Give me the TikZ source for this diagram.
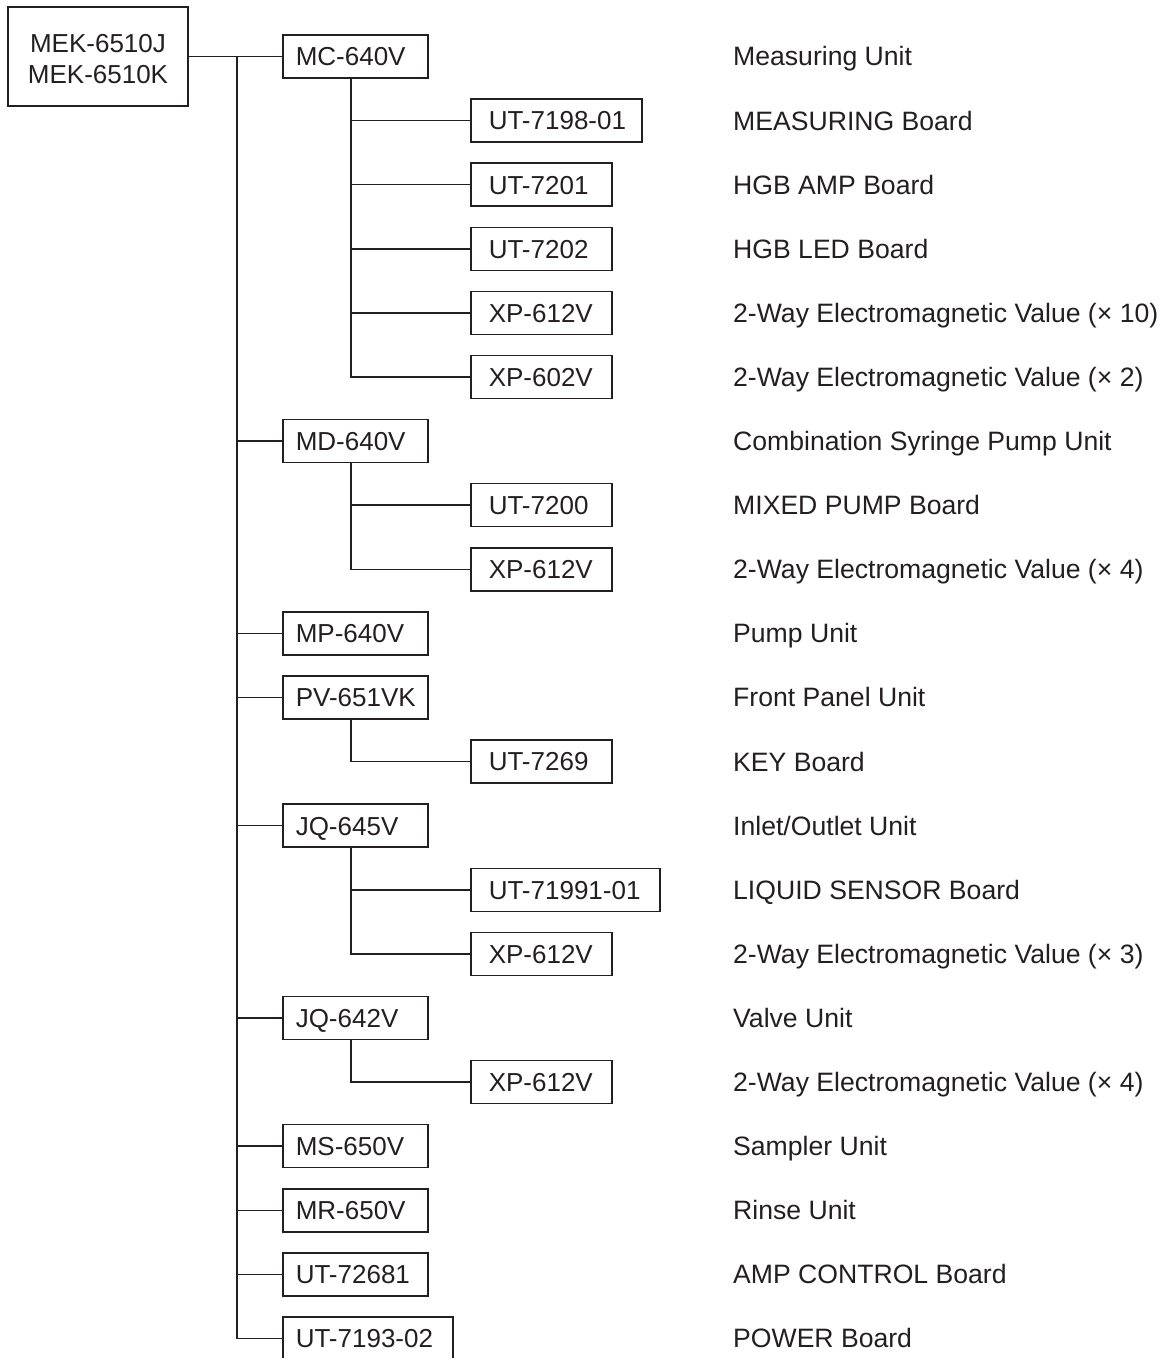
\documentclass[tikz,border=0pt]{standalone}
\usepackage{fontspec}
\setmainfont{Liberation Sans}
\definecolor{ink}{HTML}{231F20}
\begin{document}
\exhyphenpenalty=10000
\hyphenpenalty=10000
\begin{tikzpicture}[x=1pt,y=-1pt,
  every node/.style={text=ink, font=\fontsize{26}{31}\selectfont},
  box/.style={draw=ink, line width=1.5pt, minimum height=43pt, anchor=west, align=left, text height=18.7pt, text depth=0pt},
  lone/.style={box, inner xsep=13pt, text width=119pt},
  ltwo/.style={box, inner xsep=18pt, text width=105pt},
  lab/.style={anchor=base west, inner sep=0pt, font=\fontsize{26.6}{31}\selectfont},
  wire/.style={draw=ink, line width=1.5pt}]
\useasboundingbox (0,0) rectangle (1163,1358);
\def\r#1{\fpeval{56.5+64.1*#1}}
% root
\draw[draw=ink, line width=1.5pt] (8,7) rectangle (188,106);
\node[align=center, inner sep=0pt, minimum width=180pt, minimum height=99pt] (root) at (98,56.5) {};
\node[align=center, inner sep=0pt] (roottxt) at (98,59.5) {MEK-6510J\\MEK-6510K};
\coordinate (tx) at (237,56.5);
\coordinate (sx) at (351,0);
% level 1
\node[lone] (mc) at (282,{\r{0}}) {\mbox{MC-640V}};
\node[lone] (md) at (282,{\r{6}}) {\mbox{MD-640V}};
\node[lone] (mp) at (282,{\r{9}}) {\mbox{MP-640V}};
\node[lone] (pv) at (282,{\r{10}}) {\mbox{PV-651VK}};
\node[lone] (jqa) at (282,{\r{12}}) {\mbox{JQ-645V}};
\node[lone] (jqb) at (282,{\r{15}}) {\mbox{JQ-642V}};
\node[lone] (ms) at (282,{\r{17}}) {\mbox{MS-650V}};
\node[lone] (mr) at (282,{\r{18}}) {\mbox{MR-650V}};
\node[lone] (uta) at (282,{\r{19}}) {\mbox{UT-72681}};
\node[lone, text width=144pt] (utb) at (282,{\r{20}}) {\mbox{UT-7193-02}};
% level 2
\node[ltwo, text width=135pt] (c1) at (470,{\r{1}}) {\mbox{UT-7198-01}};
\node[ltwo] (c2) at (470,{\r{2}}) {\mbox{UT-7201}};
\node[ltwo] (c3) at (470,{\r{3}}) {\mbox{UT-7202}};
\node[ltwo] (c4) at (470,{\r{4}}) {\mbox{XP-612V}};
\node[ltwo] (c5) at (470,{\r{5}}) {\mbox{XP-602V}};
\node[ltwo] (d1) at (470,{\r{7}}) {\mbox{UT-7200}};
\node[ltwo] (d2) at (470,{\r{8}}) {\mbox{XP-612V}};
\node[ltwo] (p1) at (470,{\r{11}}) {\mbox{UT-7269}};
\node[ltwo, text width=153pt] (j1) at (470,{\r{13}}) {\mbox{UT-71991-01}};
\node[ltwo] (j2) at (470,{\r{14}}) {\mbox{XP-612V}};
\node[ltwo] (k1) at (470,{\r{16}}) {\mbox{XP-612V}};
% connectors
\draw[wire] (root.east |- mc.west) -- (mc.west);
\foreach \n in {md,mp,pv,jqa,jqb,ms,mr,uta,utb} \draw[wire] (tx) |- (\n.west);
\foreach \n in {c1,c2,c3,c4,c5} \draw[wire] (mc.south -| sx) |- (\n.west);
\foreach \n in {d1,d2} \draw[wire] (md.south -| sx) |- (\n.west);
\draw[wire] (pv.south -| sx) |- (p1.west);
\foreach \n in {j1,j2} \draw[wire] (jqa.south -| sx) |- (\n.west);
\draw[wire] (jqb.south -| sx) |- (k1.west);
% labels
\foreach \i/\t [count=\k] in {0/{Measuring Unit},1/{MEASURING Board},2/{HGB AMP Board},3/{HGB LED Board},
  4/{2-Way Electromagnetic Value (\texttimes\ 10)},5/{2-Way Electromagnetic Value (\texttimes\ 2)},
  6/{Combination Syringe Pump Unit},7/{MIXED PUMP Board},8/{2-Way Electromagnetic Value (\texttimes\ 4)},
  9/{Pump Unit},10/{Front Panel Unit},11/{KEY Board},12/{Inlet/Outlet Unit},13/{LIQUID SENSOR Board},
  14/{2-Way Electromagnetic Value (\texttimes\ 3)},15/{Valve Unit},16/{2-Way Electromagnetic Value (\texttimes\ 4)},
  17/{Sampler Unit},18/{Rinse Unit},19/{AMP CONTROL Board},20/{POWER Board}}
  \node[lab] (lab\k) at (733,{\r{\i}+9.4}) {\t};
\end{tikzpicture}
\end{document}
